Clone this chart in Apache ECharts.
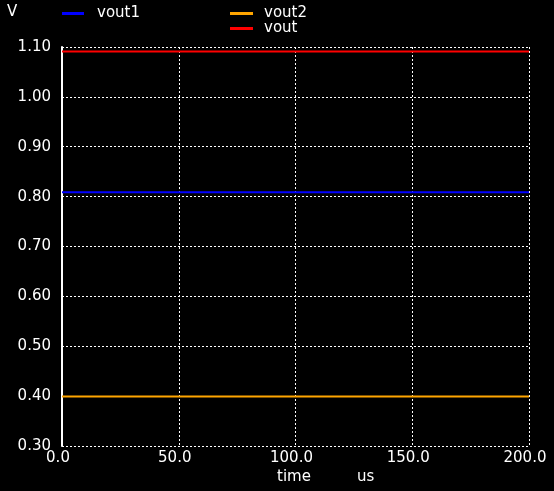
<!DOCTYPE html>
<html><head><meta charset="utf-8">
<script src="https://cdn.jsdelivr.net/npm/echarts@6/dist/echarts.min.js"></script>
<style>html,body{margin:0;padding:0;background:#000;}#c{width:554px;height:491px;}</style>
</head><body><div id="c"></div>
<script>
var timeUs = [0, 200];
var vout1 = [0.809, 0.809];
var vout2 = [0.399, 0.399];
var vout = [1.091, 1.091];
var xTicks = [0, 50, 100, 150, 200];
var yTicks = [0.3, 0.4, 0.5, 0.6, 0.7, 0.8, 0.9, 1.0, 1.1];

var F = 'DejaVu Sans';
var chart = echarts.init(document.getElementById('c'));
function pts(ys){ return timeUs.map(function(t,i){return [t, ys[i]];}); }
chart.setOption({
  backgroundColor: '#000',
  animation: false,
  grid: {left: 62, right: 25, top: 47, bottom: 45},
  legend: [
    {data: ['vout1'], left: 62, top: 6, padding: 0, icon: 'rect', itemWidth: 22, itemHeight: 3, itemGap: 0,
     textStyle: {color: '#fff', fontFamily: F, fontSize: 15, lineHeight: 12, padding: [2,0,0,8]}},
    {data: ['vout2', 'vout'], left: 230, top: 6, padding: 0, orient: 'vertical', icon: 'rect', itemWidth: 23, itemHeight: 3, itemGap: 0,
     textStyle: {color: '#fff', fontFamily: F, fontSize: 15, lineHeight: 12, padding: [2,0,0,6]}}
  ],
  xAxis: {
    type: 'value', min: xTicks[0], max: xTicks[xTicks.length-1], interval: 50,
    axisLine: {show: false}, axisTick: {show: false},
    axisLabel: {color: '#fff', fontFamily: F, fontSize: 15, margin: 5, padding: [0,8,0,0], formatter: function(v){return v.toFixed(1);}},
    splitLine: {show: true, lineStyle: {color: '#fff', width: 1, type: [2, 2]}}
  },
  yAxis: {
    type: 'value', min: yTicks[0], max: yTicks[yTicks.length-1], interval: 0.1,
    axisLine: {show: true, onZero: false, lineStyle: {color: '#fff', width: 2}}, axisTick: {show: false},
    axisLabel: {color: '#fff', fontFamily: F, fontSize: 15, margin: 11, formatter: function(v){return v.toFixed(2);}},
    splitLine: {show: true, lineStyle: {color: '#fff', width: 1, type: [2, 2]}}
  },
  graphic: [
    {type: 'text', left: 7, top: 5, style: {text: 'V', fill: '#fff', font: '15px "DejaVu Sans"'}},
    {type: 'text', left: 277, top: 470, style: {text: 'time', fill: '#fff', font: '15px "DejaVu Sans"'}},
    {type: 'text', left: 357, top: 470, style: {text: 'us', fill: '#fff', font: '15px "DejaVu Sans"'}}
  ],
  series: [
    {name: 'vout1', type: 'line', data: pts(vout1), showSymbol: false, lineStyle: {color: '#0000ff', width: 2}, itemStyle: {color: '#0000ff'}},
    {name: 'vout2', type: 'line', data: pts(vout2), showSymbol: false, lineStyle: {color: '#ffa500', width: 2}, itemStyle: {color: '#ffa500'}},
    {name: 'vout', type: 'line', data: pts(vout), showSymbol: false, lineStyle: {color: '#ff0000', width: 2}, itemStyle: {color: '#ff0000'}}
  ]
});
</script></body></html>
